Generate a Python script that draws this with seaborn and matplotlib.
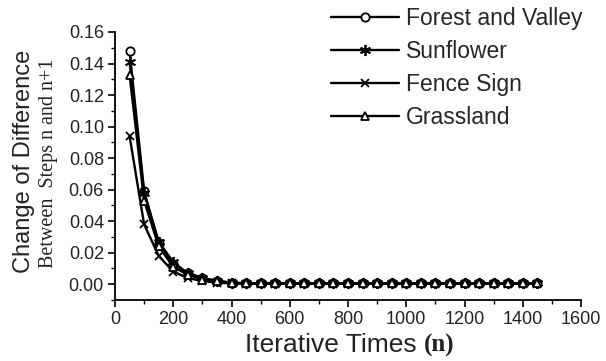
import numpy as np
import pandas as pd
import matplotlib
matplotlib.use("Agg")
import matplotlib.pyplot as plt
import seaborn as sns

iterations = list(range(50, 1451, 50))
forest = [0.148, 0.059, 0.026, 0.013, 0.007, 0.004, 0.002, 0.001] + [0.0005] * 21
sunflower = [0.141, 0.058, 0.027, 0.014, 0.007, 0.004, 0.002, 0.001] + [0.0005] * 21
fence = [0.094, 0.038, 0.018, 0.008, 0.004, 0.002, 0.001, 0.0005] + [0.0003] * 21
grassland = [0.133, 0.053, 0.024, 0.011, 0.006, 0.003, 0.002, 0.001] + [0.0005] * 21
series_names = ["Forest and Valley", "Sunflower", "Fence Sign", "Grassland"]
x_ticks = [0, 200, 400, 600, 800, 1000, 1200, 1400, 1600]
y_ticks = [0.00, 0.02, 0.04, 0.06, 0.08, 0.10, 0.12, 0.14, 0.16]

sns.set_style("ticks")
plt.rcParams["font.family"] = ["Liberation Sans", "DejaVu Sans"]

fig = plt.figure(figsize=(6.06, 3.61), dpi=100)
ax = fig.add_axes([115/606, 1-300/361, (581-115)/606, (300-32)/361])

markers = ["o", (6, 2, 0), "x", "^"]
msizes = [7.5, 9, 7.5, 7.5]
values = [forest, sunflower, fence, grassland]
for name, vals, m, ms in zip(series_names, values, markers, msizes):
    df = pd.DataFrame({"x": iterations, "y": vals})
    sns.lineplot(data=df, x="x", y="y", ax=ax, color="black", lw=1.7,
                 marker=m, markersize=ms, markerfacecolor="white",
                 markeredgecolor="black", markeredgewidth=1.3, label=name,
                 legend=False)

ax.set_xlim(0, 1600)
ax.set_ylim(-0.01, 0.16)
ax.set_xticks(x_ticks)
ax.set_yticks(y_ticks)
ax.set_xticklabels([str(t) for t in x_ticks])
ax.set_yticklabels([f"{t:.2f}" for t in y_ticks])
ax.xaxis.set_minor_locator(matplotlib.ticker.MultipleLocator(100))
ax.yaxis.set_minor_locator(matplotlib.ticker.MultipleLocator(0.01))
ax.tick_params(which="major", length=5, width=1.2, labelsize=13, pad=3,
               color="black", labelcolor="#222222")
ax.tick_params(which="minor", length=3, width=1.0, color="black")
for s in ["top", "right"]:
    ax.spines[s].set_visible(False)
for s in ["left", "bottom"]:
    ax.spines[s].set_linewidth(1.3)
    ax.spines[s].set_color("black")
ax.set_xlabel("")
ax.set_ylabel("")

handles, labels = ax.get_legend_handles_labels()
for h, ms in zip(handles, [6, 8, 6, 6]):
    h.set_markersize(ms)
fig.legend(handles, labels, loc="upper left", bbox_to_anchor=(320/606, 1.013),
           frameon=False, fontsize=16.5, handlelength=2.95, handletextpad=0.3,
           labelspacing=0.44, borderaxespad=0.1)

# x label
fig.text(0.700, 0.025, "Iterative Times ", ha="right", va="baseline", fontsize=19, color="#222222")
fig.text(0.700, 0.025, "(n)", ha="left", va="baseline", fontsize=18, fontweight="bold",
         family=["Liberation Serif", "DejaVu Serif"], color="#222222")
# y label
fig.text(0.040, 0.552, "Change of Difference", rotation=90, ha="center", va="center",
         fontsize=17, color="#222222")
fig.text(0.080, 0.548, "Between  Steps n and n+1", rotation=90, ha="center", va="center",
         fontsize=14.5, family=["Liberation Serif", "DejaVu Serif"], color="#222222")

fig.savefig("out.png", dpi=100)
